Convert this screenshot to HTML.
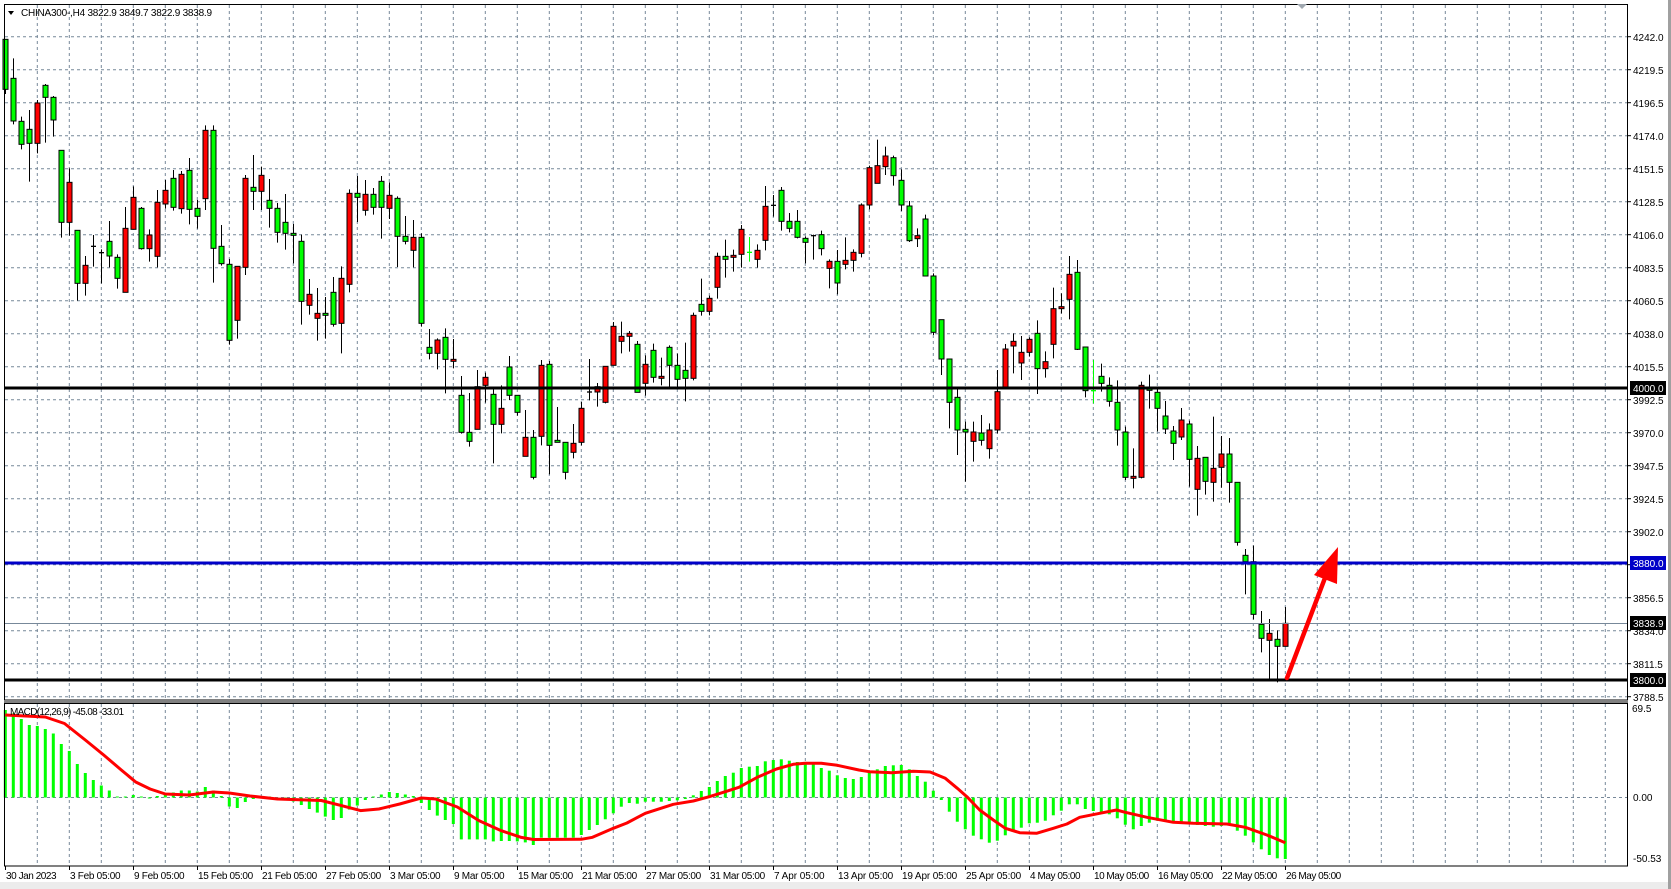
<!DOCTYPE html>
<html><head><meta charset="utf-8"><style>
html,body{margin:0;padding:0;background:#fff;width:1671px;height:889px;overflow:hidden}
svg{display:block}
text{font-family:"Liberation Sans",sans-serif;font-size:10px;fill:#000}
</style></head><body>
<svg id="s" width="1671" height="889" viewBox="0 0 1671 889" xmlns="http://www.w3.org/2000/svg">
<rect x="0" y="0" width="1671" height="889" fill="#fff"/>
<rect x="0" y="882" width="1671" height="7" fill="#ececec"/>
<rect x="1668" y="0" width="3" height="889" fill="#a0a0a0"/>
<g id="grid" stroke="#778899" stroke-width="1" stroke-dasharray="3,3"></g>
<g id="hist"></g>
<g id="candles"></g>
<!-- level lines -->
<line x1="4" y1="623.5" x2="1628" y2="623.5" stroke="#778899" stroke-width="1"/>
<line x1="4" y1="388" x2="1628" y2="388" stroke="#000" stroke-width="3"/>
<line x1="4" y1="563" x2="1628" y2="563" stroke="#0000c8" stroke-width="3"/>
<line x1="4" y1="680" x2="1628" y2="680" stroke="#000" stroke-width="3"/>
<polyline id="sig" fill="none" stroke="#ff0000" stroke-width="3" stroke-linejoin="round"/>
<!-- arrow -->
<line x1="1287" y1="678" x2="1328" y2="570" stroke="#ff0000" stroke-width="4.5" stroke-linecap="round"/>
<polygon points="1338,547 1314,575 1337,584" fill="#ff0000"/>
<!-- frames -->
<rect x="4.5" y="4.5" width="1623" height="695.5" fill="none" stroke="#000" stroke-width="1"/>
<line x1="4" y1="702" x2="1628" y2="702" stroke="#000" stroke-width="1"/>
<rect x="4.5" y="703.5" width="1623" height="162.5" fill="none" stroke="#000" stroke-width="1"/>
<polygon points="1297,4 1307,4 1302,9" fill="#a0a8b0"/>
<!-- title -->
<polygon points="8,11 14,11 11,15" fill="#000"/>
<text x="21" y="16" textLength="191">CHINA300-,H4  3822.9 3849.7 3822.9 3838.9</text>
<text x="10" y="715" textLength="114">MACD(12,26,9) -45.08 -33.01</text>
<g id="axis"></g>
<!-- price labels -->
<g>
<text x="1633" y="41">4242.0</text><text x="1633" y="74">4219.5</text><text x="1633" y="107">4196.5</text>
<text x="1633" y="140">4174.0</text><text x="1633" y="173">4151.5</text><text x="1633" y="206">4128.5</text>
<text x="1633" y="239">4106.0</text><text x="1633" y="272">4083.5</text><text x="1633" y="305">4060.5</text>
<text x="1633" y="338">4038.0</text><text x="1633" y="371">4015.5</text><text x="1633" y="404">3992.5</text>
<text x="1633" y="437">3970.0</text><text x="1633" y="470">3947.5</text><text x="1633" y="503">3924.5</text>
<text x="1633" y="536">3902.0</text><text x="1633" y="602">3856.5</text><text x="1633" y="635">3834.0</text>
<text x="1633" y="668">3811.5</text><text x="1633" y="701">3788.5</text>
<rect x="1630" y="381" width="36" height="14" fill="#000"/><text x="1633" y="392" style="fill:#fff">4000.0</text>
<rect x="1630" y="556" width="36" height="14" fill="#0000c8"/><text x="1633" y="567" style="fill:#fff">3880.0</text>
<rect x="1630" y="616" width="36" height="14" fill="#000"/><text x="1633" y="627" style="fill:#fff">3838.9</text>
<rect x="1630" y="673" width="36" height="14" fill="#000"/><text x="1633" y="684" style="fill:#fff">3800.0</text>
<text x="1632" y="712">69.5</text><text x="1633" y="801">0.00</text><text x="1633" y="862">-50.53</text>
</g>
<g id="tl"></g>
</svg>
<script>
var NS="http://www.w3.org/2000/svg";
function el(p,t,a){var e=document.createElementNS(NS,t);for(var k in a)e.setAttribute(k,a[k]);document.getElementById(p).appendChild(e);return e;}
// grid
for(var k=0;k<=20;k++){var y=36.7+33*k;el('grid','line',{x1:5,y1:y,x2:1628,y2:y});}
for(var k=0;k<50;k++){var x=37.3+32*k;el('grid','line',{x1:x,y1:5,x2:x,y2:700});el('grid','line',{x1:x,y1:704,x2:x,y2:866});}
el('grid','line',{x1:5,y1:797.5,x2:1628,y2:797.5});
// axis ticks
for(var k=0;k<=20;k++){var y=36.7+33*k;el('axis','line',{x1:1628,y1:y,x2:1631,y2:y,stroke:'#000'});}
var labs=["30 Jan 2023","3 Feb 05:00","9 Feb 05:00","15 Feb 05:00","21 Feb 05:00","27 Feb 05:00","3 Mar 05:00","9 Mar 05:00","15 Mar 05:00","21 Mar 05:00","27 Mar 05:00","31 Mar 05:00","7 Apr 05:00","13 Apr 05:00","19 Apr 05:00","25 Apr 05:00","4 May 05:00","10 May 05:00","16 May 05:00","22 May 05:00","26 May 05:00"];
for(var k=0;k<labs.length;k++){var x=5+64*k;el('axis','line',{x1:x+0.5,y1:866,x2:x+0.5,y2:870,stroke:'#000'});
var t=el('tl','text',{x:x+1,y:879,textLength:labs[k].length*4.6});t.textContent=labs[k];}
// candles
var C1=[[58,58,208,222,'g'],[115,175,303,313,'g'],[290,304,373,388,'g'],[270,328,370,485,'g'],[240,249,370,400,'r'],[192,196,232,368,'g'],[228,232,300,350,'g'],[391,391,607,653,'g'],[445,487,607,647,'r'],[631,631,790,842,'g'],[708,736,790,827,'r'],[645,679,679,740,'k'],[688,698,698,790,'k'],[603,664,708,742,'g'],[703,712,775,806,'g'],[561,625,817,817,'r'],[499,532,628,628,'r'],[561,565,686,689,'g'],[628,645,686,725,'r'],[510,547,709,742,'r'],[480,511,552,566,'r'],[450,475,562,572,'g'],[453,463,566,581,'r'],[414,451,568,613,'g'],[540,565,589,626,'g'],[316,331,536,570,'r'],[316,331,685,788,'g'],[615,679,731,737,'g'],[717,733,961,974,'g'],[739,739,901,956,'r'],[465,475,742,765,'r'],[405,502,514,570,'g'],[440,466,514,570,'r'],[477,541,565,623,'g'],[549,565,637,668,'g'],[522,607,640,689,'g'],[612,640,646,730,'g'],[644,664,844,914,'g'],[777,823,856,884,'r'],[804,880,895,962,'r'],[831,880,886,956,'g'],[771,817,913,920,'g'],[739,775,910,1000,'r'],[508,520,793,817,'r'],[468,520,532,606,'g'],[480,523,571,587,'r'],[504,523,562,584,'g'],[468,484,562,656,'g'],[487,526,565,597,'r'],[529,535,649,741,'g'],[588,649,664,673,'g'],[600,652,691,742,'r']];
var C2=[[340,352,610,620,'g'],[627,682,700,718,'g'],[655,660,700,748,'r'],[625,652,718,820,'g'],[657,718,724,745,'r'],[768,826,937,941,'g'],[819,937,964,980,'g'],[750,800,928,928,'r'],[758,772,796,848,'r'],[807,823,913,1030,'g'],[796,865,913,940,'r'],[708,741,826,840,'g'],[826,826,877,887,'g'],[870,952,1009,1009,'r'],[930,952,1072,1078,'g'],[720,736,949,976,'r'],[723,733,976,1063,'g'],[861,961,967,967,'g'],[967,967,1057,1078,'g'],[912,970,997,1015,'r'],[846,865,967,976,'r'],[717,816,816,841,'k'],[789,800,816,860,'r'],[739,739,847,850,'r'],[606,619,736,736,'r'],[605,649,664,700,'r'],[633,640,649,695,'r'],[663,673,817,817,'g'],[706,733,790,827,'r'],[671,691,772,788,'g'],[713,769,775,796,'r'],[676,682,736,800,'g'],[701,736,778,800,'g'],[668,751,775,844,'g'],[578,586,775,781,'r'],[476,553,574,587,'g'],[527,535,574,586,'r'],[398,409,502,536,'r'],[359,409,418,473,'g'],[389,406,412,455,'r'],[315,328,403,443,'r'],[351,397,397,425,'G'],[373,391,418,443,'r'],[198,259,361,391,'r'],[225,256,256,290,'k'],[201,211,304,332,'g'],[279,304,325,337,'g'],[270,304,352,355,'g'],[349,355,367,430,'g'],[344,347,347,419,'k']];
var C3=[[332,344,386,406,'g'],[418,424,445,505,'r'],[390,424,489,523,'g'],[352,421,433,448,'r'],[388,397,421,455,'r'],[250,255,400,412,'r'],[137,143,255,268,'r'],[59,137,190,190,'r'],[80,108,140,165,'r'],[107,113,167,197,'g'],[148,181,255,273,'g'],[243,258,362,366,'g'],[325,347,356,381,'r'],[284,297,468,468,'g'],[460,468,637,645,'g'],[599,599,717,765,'g'],[717,717,847,925,'g'],[808,832,930,1005,'g'],[905,928,936,1085,'g'],[905,936,964,1025,'r'],[885,939,961,977,'g'],[910,930,986,1016,'r'],[750,815,930,940,'r'],[672,687,806,806,'r'],[640,664,678,760,'r'],[648,697,729,780,'r'],[652,658,697,710,'r'],[601,640,746,822,'g'],[694,725,746,773,'r'],[503,566,673,715,'r'],[520,560,566,580,'r'],[408,463,538,598,'r'],[420,457,688,690,'g'],[681,681,812,832,'g'],[720,812,812,850,'G'],[731,769,790,815,'g'],[772,796,844,860,'g'],[781,847,930,977,'g'],[920,936,1072,1080,'g'],[985,1069,1075,1105,'r'],[785,796,1072,1075,'r'],[764,805,811,866,'g'],[808,817,865,934,'g'],[843,888,927,942,'g'],[918,933,970,1020,'g'],[864,900,951,960,'r']];
var C4=[[62,72,178,260,'g'],[138,175,268,347,'r'],[172,172,244,284,'g'],[50,205,247,305,'r'],[108,162,202,263,'r'],[114,162,247,308,'g'],[247,247,427,437,'g'],[447,466,485,583,'g'],[437,485,643,658,'g'],[633,673,715,757,'g'],[657,700,721,838,'r'],[691,718,739,847,'g'],[621,670,739,740,'r']];
var all=[];
function add(arr,oy){arr.forEach(function(c){all.push([oy+c[0]/3,oy+c[1]/3,oy+c[2]/3,oy+c[3]/3,c[4]]);});}
add(C1,20);add(C2,120);add(C3,120);add(C4,400);
all.forEach(function(c,i){
 var x=Math.round(5.3+8*i)+0.5;
 var wc=c[4]=='G'?'#00ff00':'#000';
 el('candles','line',{x1:x,y1:Math.max(c[0],5),x2:x,y2:c[3],stroke:wc,'stroke-width':1});
 if(c[2]-c[1]<1.5){el('candles','line',{x1:x-2.5,y1:c[1],x2:x+2.5,y2:c[1],stroke:wc,'stroke-width':1.3});}
 else{var f=c[4]=='g'?'#00ff00':'#ff0000';
 el('candles','rect',{x:x-2.5,y:Math.max(c[1],5),width:5,height:c[2]-Math.max(c[1],5),fill:f,stroke:'#000','stroke-width':1});}
});
// histogram
var H=[710,713.5,719,725,726,729,733.5,744,751,764,773,780,785.5,790.5,796.5,796.5,795,796.5,797.5,796,793,792.5,790.5,790.5,791.5,787,790.5,796,806.5,808,802,799,796.5,796.5,799,800.5,801.5,805,809,812.6,816.6,820,818,809.6,805.6,800,796.5,794.5,792,793,794.5,796,803,810,815.6,820,824,839.4,839.4,839.4,839.4,841.4,841,841,841.4,842.4,845,837.7,837.7,837.7,837.7,837.7,835,830,825,819.3,813.3,806.7,803,803.7,801.7,801.7,801.7,801,800.3,799,795.3,791,787,781,776,772.7,768,766.7,766,761.3,760,759.3,760.7,762,762,764.3,768,770.7,775.3,778,779,777,772.7,769.3,766,765.3,765,769.3,776,781.7,790.7,800,811.7,821.7,829.3,835.7,839.3,842.7,840.7,835.3,832,827.7,823.3,822.7,820.7,815.3,810.7,804.3,804.3,809,811,812.7,814.3,818.3,824.7,829.3,826,822.7,820.7,820.7,821.7,823.3,824.3,825,826,826.7,826,824.3,830.7,835.7,842.3,849.3,855,858.3,859];
var Z=797.5;
H.forEach(function(y,i){var x=5.3+8*i;var a=Math.min(y,Z),b=Math.max(y,Z);if(b-a<1)b=a+1;
 el('hist','rect',{x:x-1.5,y:a,width:3,height:b-a,fill:'#00ff00'});});
var S=[[0,715],[5,717],[7.4,723.5],[10,740],[12.3,755],[14.5,770],[16.3,782],[18.1,789],[20,794],[23,795],[26,792],[28,793],[30.6,796],[34,799],[39.5,800.5],[42,805.6],[44.4,810.6],[46.7,809],[49.3,804],[52,798],[53.8,799],[56.5,807],[59.2,820.6],[62,830.7],[64.5,837.4],[66,839.5],[72,839.3],[73.4,837.3],[76,828.3],[77.7,823],[80,813.3],[83.5,804.3],[86,801],[88,796.7],[90,791.7],[91.7,787.3],[94,777.3],[96.4,769],[98.5,764.3],[100,763.3],[102,763.3],[104,765.3],[106.7,770],[108,771.7],[110.8,772.7],[113.5,771.3],[115.6,772],[117.5,778.3],[119,788.3],[120.2,796.7],[121.8,810],[123.5,820],[125,828.3],[126.8,832.7],[128.9,833.3],[131,828.3],[132.7,824],[134.3,817.3],[136.8,813.3],[138.9,810],[140,812.3],[142.7,817.3],[146,822.3],[148.5,823.3],[152.7,824],[155,827.3],[157.7,835],[160,842.7]];
document.getElementById('sig').setAttribute('points',S.map(function(p){return (5.3+8*p[0]).toFixed(1)+','+p[1];}).join(' '));
</script>
</body></html>
